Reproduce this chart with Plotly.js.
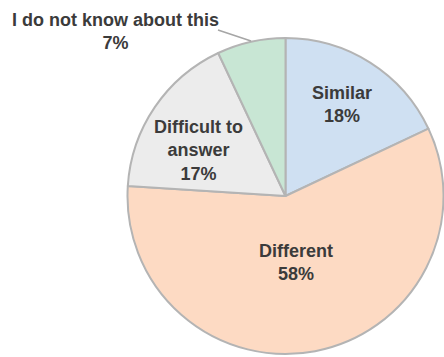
<!DOCTYPE html>
<html>
<head>
<meta charset="utf-8">
<script src="https://cdn.plot.ly/plotly-3.0.1.min.js"></script>
<style>html,body{margin:0;padding:0;background:#fff;}#chart{width:444px;height:357px;}</style>
</head>
<body>
<div id="chart"></div>
<script>
const categories = ['Similar', 'Different', 'Difficult to<br>answer', 'I do not know about this'];
const shares = [18, 58, 17, 7];
const sliceColors = ['#cfe0f2', '#fddac3', '#ececec', '#c8e6d4'];

const textColor = '#3b3b3b';
const font = {family: 'Liberation Sans, Arial, sans-serif', size: 18, color: textColor, weight: 'bold'};

const trace = {
  type: 'pie',
  labels: categories,
  values: shares,
  sort: false,
  direction: 'clockwise',
  rotation: 0,
  marker: {colors: sliceColors, line: {color: '#b4b4b4', width: 2}},
  textinfo: 'none',
  hoverinfo: 'none',
  showlegend: false,
  domain: {x: [127/444, 1], y: [0.0084, 0.8936]}
};

// label placement (pixel centres) for each slice's data label
const labelPos = [[342, 104], [296, 262], [198, 150], [115, 31]];

const annotations = categories.map((c, i) => ({
  xref: 'paper', yref: 'paper',
  x: labelPos[i][0] / 444, y: 1 - labelPos[i][1] / 357,
  xanchor: 'center', yanchor: 'middle',
  text: c + '<br>' + shares[i] + '%',
  showarrow: false, font: font
}));

const layout = {
  width: 444, height: 357,
  margin: {l: 0, r: 0, t: 0, b: 0},
  paper_bgcolor: '#fff',
  showlegend: false,
  shapes: [{type: 'line', xref: 'paper', yref: 'paper',
    x0: 218/444, y0: 1 - 30/357, x1: 251/444, y1: 1 - 41/357,
    line: {color: '#a6a6a6', width: 1.5}}],
  annotations: annotations
};

Plotly.newPlot('chart', [trace], layout, {displayModeBar: false, staticPlot: true});
</script>
</body>
</html>
